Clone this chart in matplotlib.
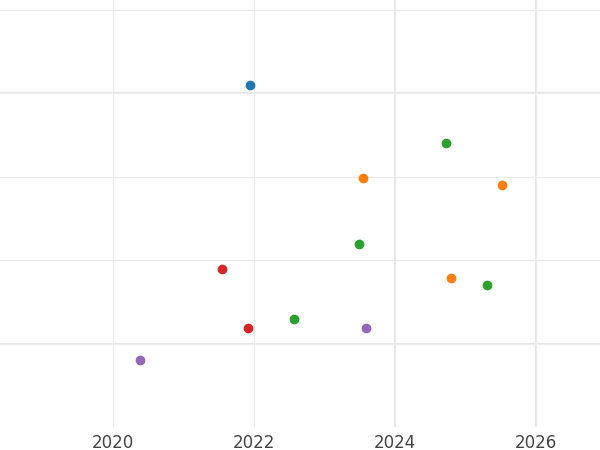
import numpy as np
import matplotlib
matplotlib.use("Agg")
import matplotlib.pyplot as plt

# 数据
blue_x = [2021.95]
blue_y = [3.10]
orange_x = [2023.55, 2025.52, 2024.80]
orange_y = [1.99, 1.90, 0.79]
green_x = [2024.73, 2023.49, 2025.31, 2022.57]
green_y = [2.40, 1.20, 0.70, 0.29]
red_x = [2021.55, 2021.92]
red_y = [0.90, 0.19]
purple_x = [2023.59, 2020.39]
purple_y = [0.19, -0.20]

fig = plt.figure(figsize=(6, 4.5), dpi=100)
ax = fig.add_axes([0, 23 / 450, 1, 427 / 450])

ax.set_xlim(2018.40, 2026.91)
ax.set_ylim(-1.0, 4.12)
ax.set_xticks([2020, 2022, 2024, 2026])
ax.set_yticks([0, 1, 2, 3, 4])
ax.set_yticklabels([])
ax.grid(True, color="#ebebeb", linewidth=0.8)
ax.axhline(0, color="#e6e6e6", linewidth=1.5, zorder=0)
ax.axhline(3, color="#e6e6e6", linewidth=1.5, zorder=0)
ax.axvline(2024, color="#e6e6e6", linewidth=1.5, zorder=0)
ax.axvline(2026, color="#e6e6e6", linewidth=1.5, zorder=0)
ax.set_axisbelow(True)
for s in ax.spines.values():
    s.set_visible(False)
ax.tick_params(length=0, labelsize=12, labelcolor="#444444", pad=5)
ax.tick_params(axis="y", left=False, labelleft=False)

for xs, ys, c in [(blue_x, blue_y, "#1f77b4"), (orange_x, orange_y, "#ff7f0e"),
                  (green_x, green_y, "#2ca02c"), (red_x, red_y, "#d62728"),
                  (purple_x, purple_y, "#9467bd")]:
    ax.scatter(xs, ys, s=36, color=c, zorder=3)

fig.savefig("out.png", dpi=100)
